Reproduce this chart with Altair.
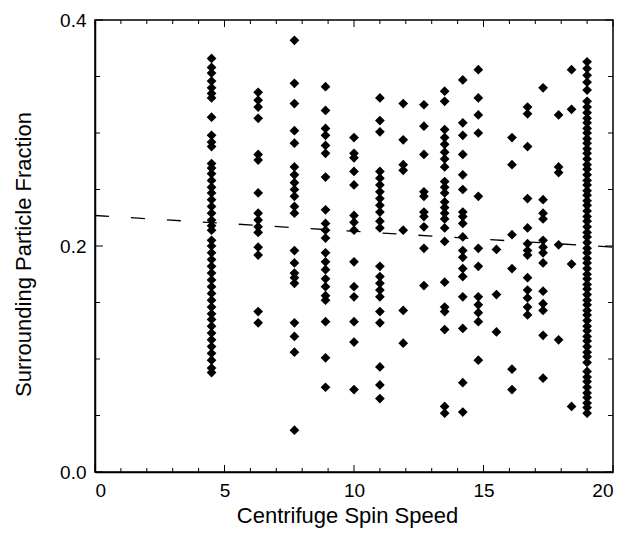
import altair as alt
import pandas as pd

# ---- data ----
speeds = [4.5, 6.3, 7.7, 8.9, 10.0, 11.0, 11.9, 12.7, 13.5, 14.2,
          14.8, 15.5, 16.1, 16.7, 17.3, 17.9, 18.4, 19.0]

frac_4_5 = [0.366, 0.358, 0.353, 0.346, 0.340, 0.335, 0.331, 0.314, 0.298, 0.292,
            0.288, 0.273, 0.269, 0.264, 0.258, 0.252, 0.247, 0.241, 0.235, 0.229,
            0.223, 0.218, 0.214, 0.205, 0.200, 0.194, 0.188, 0.182, 0.176, 0.170,
            0.164, 0.158, 0.152, 0.146, 0.140, 0.135, 0.129, 0.123, 0.117, 0.111,
            0.105, 0.099, 0.092, 0.088]
frac_6_3 = [0.336, 0.329, 0.323, 0.313, 0.281, 0.276, 0.247, 0.229, 0.223, 0.217,
            0.212, 0.199, 0.192, 0.142, 0.132]
frac_7_7 = [0.382, 0.344, 0.326, 0.302, 0.291, 0.270, 0.263, 0.256, 0.250, 0.244,
            0.235, 0.229, 0.196, 0.185, 0.176, 0.172, 0.167, 0.132, 0.120, 0.106,
            0.037]
frac_8_9 = [0.341, 0.320, 0.304, 0.298, 0.289, 0.282, 0.261, 0.232, 0.220, 0.214,
            0.207, 0.194, 0.186, 0.179, 0.171, 0.164, 0.156, 0.152, 0.133, 0.101,
            0.075]
frac_10 = [0.296, 0.282, 0.278, 0.266, 0.254, 0.227, 0.221, 0.214, 0.186, 0.164,
           0.155, 0.133, 0.115, 0.073]
frac_11 = [0.331, 0.311, 0.301, 0.266, 0.260, 0.254, 0.248, 0.242, 0.236, 0.230,
           0.222, 0.216, 0.182, 0.173, 0.167, 0.161, 0.155, 0.142, 0.132, 0.093,
           0.077, 0.065]
frac_11_9 = [0.326, 0.294, 0.272, 0.267, 0.214, 0.143, 0.114]
frac_12_6 = [0.325, 0.306, 0.281, 0.248, 0.244, 0.230, 0.226, 0.217, 0.198, 0.165]
frac_13_5 = [0.337, 0.328, 0.303, 0.296, 0.290, 0.283, 0.277, 0.270, 0.257, 0.252,
             0.247, 0.239, 0.234, 0.229, 0.224, 0.216, 0.204, 0.168, 0.146, 0.142,
             0.126, 0.058, 0.052]
frac_14_1 = [0.347, 0.309, 0.298, 0.281, 0.263, 0.250, 0.230, 0.226, 0.220, 0.208,
             0.196, 0.190, 0.180, 0.173, 0.155, 0.127, 0.079, 0.053]
frac_14_8 = [0.356, 0.331, 0.316, 0.300, 0.244, 0.198, 0.182, 0.155, 0.148, 0.141,
             0.133, 0.099]
frac_15_5 = [0.197, 0.157, 0.124]
frac_16_2 = [0.296, 0.272, 0.210, 0.180, 0.091, 0.073]
frac_16_8 = [0.323, 0.317, 0.288, 0.242, 0.216, 0.202, 0.196, 0.192, 0.172, 0.161,
             0.154, 0.146, 0.139]
frac_17_3 = [0.340, 0.241, 0.229, 0.224, 0.205, 0.199, 0.194, 0.185, 0.160, 0.149,
             0.143, 0.121, 0.083]
frac_17_9 = [0.316, 0.270, 0.265, 0.201, 0.117]
frac_18_5 = [0.356, 0.321, 0.184, 0.058]
frac_19 = [0.363, 0.357, 0.351, 0.345, 0.338, 0.328, 0.323, 0.318, 0.313, 0.309,
           0.304, 0.300, 0.295, 0.291, 0.286, 0.282, 0.277, 0.272, 0.268, 0.263,
           0.258, 0.254, 0.249, 0.245, 0.240, 0.236, 0.231, 0.226, 0.222, 0.217,
           0.212, 0.208, 0.203, 0.198, 0.194, 0.189, 0.185, 0.180, 0.175, 0.171,
           0.166, 0.162, 0.157, 0.152, 0.148, 0.143, 0.139, 0.134, 0.129, 0.125,
           0.120, 0.116, 0.111, 0.106, 0.102, 0.097, 0.089, 0.084, 0.080, 0.075,
           0.070, 0.066, 0.061, 0.057, 0.052]

all_fracs = [frac_4_5, frac_6_3, frac_7_7, frac_8_9, frac_10, frac_11, frac_11_9,
             frac_12_6, frac_13_5, frac_14_1, frac_14_8, frac_15_5, frac_16_2,
             frac_16_8, frac_17_3, frac_17_9, frac_18_5, frac_19]

fit_speed = [0, 20]
fit_fraction = [0.227, 0.199]

x_tick_labels = [0, 5, 10, 15, 20]
y_tick_labels = [0.0, 0.2, 0.4]
x_minor_ticks = [0, 1, 2, 3, 4, 5, 6, 7, 8, 9, 10, 11, 12, 13, 14, 15, 16, 17, 18, 19, 20]
y_minor_ticks = [0.0, 0.05, 0.1, 0.15, 0.2, 0.25, 0.3, 0.35, 0.4]

# ---- tables ----
points = pd.DataFrame([{"speed": s, "fraction": f}
                       for s, vals in zip(speeds, all_fracs) for f in vals])
fit = pd.DataFrame({"speed": fit_speed, "fraction": fit_fraction})
xt = pd.DataFrame({"speed": x_minor_ticks,
                   "major": [v in x_tick_labels for v in x_minor_ticks]})
yt = pd.DataFrame({"fraction": y_minor_ticks,
                   "major": [round(v, 2) in y_tick_labels for v in y_minor_ticks]})

W, H = 518, 452
FONT = "Liberation Sans"

x_axis = alt.Axis(values=x_tick_labels, format="d", ticks=False, grid=False,
                  domainColor="black", domainWidth=1.5,
                  labelFont=FONT, labelFontSize=19, labelColor="black", labelPadding=9,
                  title="Centrifuge Spin Speed", titleFont=FONT, titleFontSize=22,
                  titleFontWeight="normal", titleColor="black",
                  titleX=252, titleY=50, titleAlign="center", titleBaseline="alphabetic")
y_axis = alt.Axis(values=y_tick_labels, format=".1f", ticks=False, grid=False,
                  domainColor="black", domainWidth=1.5,
                  labelFont=FONT, labelFontSize=19, labelColor="black", labelPadding=9,
                  title="Surrounding Particle Fraction", titleFont=FONT, titleFontSize=22,
                  titleFontWeight="normal", titleColor="black",
                  titleX=-72, titleY=H / 2 + 8, titleAngle=-90, titleAlign="center",
                  titleBaseline="middle")

xs = alt.Scale(domain=[0, 20], nice=False, zero=False)
ys = alt.Scale(domain=[0, 0.4], nice=False, zero=False)
X = alt.X("speed:Q", scale=xs, axis=x_axis)
Y = alt.Y("fraction:Q", scale=ys, axis=y_axis)

pts = alt.Chart(points).mark_point(shape="diamond", filled=True, color="black",
                                   opacity=1, size=95).encode(x=X, y=Y)

line = alt.Chart(fit).mark_line(color="black", strokeWidth=1.3,
                                strokeDash=[14, 22]).encode(x=X, y=Y)

def xticks(sub, y0, y1):
    return alt.Chart(sub).mark_rule(color="black", strokeWidth=1).encode(
        x=X, y=alt.value(y0), y2=alt.value(y1))

def yticks(sub, x0, x1):
    return alt.Chart(sub).mark_rule(color="black", strokeWidth=1).encode(
        y=Y, x=alt.value(x0), x2=alt.value(x1))

xmaj = xt[xt.major]
xmin = xt[~xt.major]
ymaj = yt[yt.major]
ymin = yt[~yt.major]

layers = [
    xticks(xmin, H, H - 4), xticks(xmaj, H, H - 7),
    xticks(xmin, 0, 4), xticks(xmaj, 0, 7),
    yticks(ymin, 0, 5), yticks(ymaj, 0, 8),
    yticks(ymin, W, W - 5), yticks(ymaj, W, W - 8),
    line, pts,
]

chart = alt.layer(*layers).properties(
    width=W, height=H,
    autosize=alt.AutoSizeParams(type="none"),
    padding={"left": 87, "top": 12, "right": 18, "bottom": 60},
    background="white",
).configure_view(stroke="black", strokeWidth=1.5)

chart.save("out.html", embed_options={"renderer": "svg", "actions": False})
